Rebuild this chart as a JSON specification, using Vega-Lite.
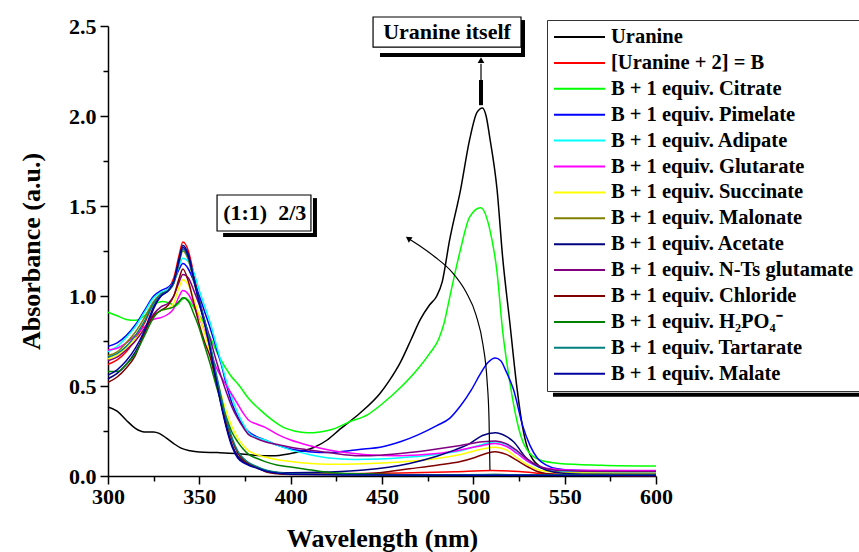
{
"$schema":"https://vega.github.io/schema/vega-lite/v6.json",
"width":548,"height":450,
"autosize":{"type":"none"},
"padding":{"left":108,"top":26,"right":203,"bottom":76},
"background":"white",
"config":{"view":{"stroke":null},"font":"Liberation Serif","axis":{"grid":false,"domainColor":"black","tickColor":"black","labelColor":"black","titleColor":"black","domainWidth":1.5,"tickWidth":1.5,"labelFont":"Liberation Serif","titleFont":"Liberation Serif","labelFontWeight":"bold","titleFontWeight":"bold"}},
"datasets":{
"spectra":[
{"s":"U","x":300,"y":0.383},{"s":"U","x":305,"y":0.36},{"s":"U","x":310,"y":0.31},{"s":"U","x":315,"y":0.265},{"s":"U","x":320,"y":0.245},{"s":"U","x":325,"y":0.245},{"s":"U","x":328,"y":0.237},{"s":"U","x":332,"y":0.21},{"s":"U","x":336,"y":0.18},{"s":"U","x":340,"y":0.155},{"s":"U","x":345,"y":0.14},{"s":"U","x":350,"y":0.133},{"s":"U","x":360,"y":0.13},{"s":"U","x":370,"y":0.125},{"s":"U","x":380,"y":0.115},{"s":"U","x":390,"y":0.112},{"s":"U","x":400,"y":0.125},{"s":"U","x":407,"y":0.14},{"s":"U","x":413,"y":0.16},{"s":"U","x":420,"y":0.2},{"s":"U","x":427,"y":0.26},{"s":"U","x":438,"y":0.35},{"s":"U","x":449,"y":0.46},{"s":"U","x":454,"y":0.53},{"s":"U","x":460,"y":0.63},{"s":"U","x":466,"y":0.76},{"s":"U","x":471,"y":0.87},{"s":"U","x":476,"y":0.95},{"s":"U","x":480,"y":1.0},{"s":"U","x":483,"y":1.08},{"s":"U","x":487,"y":1.31},{"s":"U","x":493,"y":1.59},{"s":"U","x":498,"y":1.87},{"s":"U","x":502,"y":2.02},{"s":"U","x":505,"y":2.045},{"s":"U","x":507,"y":2.0},{"s":"U","x":509,"y":1.88},{"s":"U","x":513,"y":1.59},{"s":"U","x":516,"y":1.22},{"s":"U","x":520,"y":0.85},{"s":"U","x":524,"y":0.48},{"s":"U","x":527,"y":0.27},{"s":"U","x":531,"y":0.12},{"s":"U","x":538,"y":0.045},{"s":"U","x":550,"y":0.02},{"s":"U","x":600,"y":0.015},
{"s":"B","x":300,"y":0.62},{"s":"B","x":305,"y":0.645},{"s":"B","x":310,"y":0.69},{"s":"B","x":315,"y":0.76},{"s":"B","x":320,"y":0.85},{"s":"B","x":325,"y":0.96},{"s":"B","x":329,"y":1.01},{"s":"B","x":333,"y":1.04},{"s":"B","x":336,"y":1.1},{"s":"B","x":339,"y":1.23},{"s":"B","x":341,"y":1.3},{"s":"B","x":344,"y":1.25},{"s":"B","x":347,"y":1.12},{"s":"B","x":350,"y":0.98},{"s":"B","x":353,"y":0.86},{"s":"B","x":356,"y":0.72},{"s":"B","x":359,"y":0.55},{"s":"B","x":362,"y":0.4},{"s":"B","x":365,"y":0.27},{"s":"B","x":368,"y":0.17},{"s":"B","x":371,"y":0.11},{"s":"B","x":374,"y":0.08},{"s":"B","x":377,"y":0.065},{"s":"B","x":381,"y":0.05},{"s":"B","x":386,"y":0.028},{"s":"B","x":393,"y":0.015},{"s":"B","x":400,"y":0.01},{"s":"B","x":430,"y":0.012},{"s":"B","x":460,"y":0.016},{"s":"B","x":490,"y":0.024},{"s":"B","x":510,"y":0.03},{"s":"B","x":525,"y":0.025},{"s":"B","x":540,"y":0.012},{"s":"B","x":560,"y":0.005},{"s":"B","x":600,"y":0.003},
{"s":"Cit","x":300,"y":0.91},{"s":"Cit","x":305,"y":0.89},{"s":"Cit","x":310,"y":0.87},{"s":"Cit","x":315,"y":0.865},{"s":"Cit","x":320,"y":0.89},{"s":"Cit","x":325,"y":0.95},{"s":"Cit","x":330,"y":0.97},{"s":"Cit","x":334,"y":0.96},{"s":"Cit","x":337,"y":0.945},{"s":"Cit","x":340,"y":0.975},{"s":"Cit","x":342,"y":0.99},{"s":"Cit","x":345,"y":0.965},{"s":"Cit","x":348,"y":0.92},{"s":"Cit","x":352,"y":0.86},{"s":"Cit","x":356,"y":0.77},{"s":"Cit","x":361,"y":0.66},{"s":"Cit","x":367,"y":0.56},{"s":"Cit","x":372,"y":0.5},{"s":"Cit","x":377,"y":0.43},{"s":"Cit","x":383,"y":0.37},{"s":"Cit","x":390,"y":0.31},{"s":"Cit","x":396,"y":0.27},{"s":"Cit","x":402,"y":0.25},{"s":"Cit","x":409,"y":0.24},{"s":"Cit","x":416,"y":0.245},{"s":"Cit","x":423,"y":0.26},{"s":"Cit","x":432,"y":0.3},{"s":"Cit","x":442,"y":0.34},{"s":"Cit","x":450,"y":0.4},{"s":"Cit","x":460,"y":0.49},{"s":"Cit","x":470,"y":0.6},{"s":"Cit","x":476,"y":0.68},{"s":"Cit","x":481,"y":0.76},{"s":"Cit","x":484,"y":0.85},{"s":"Cit","x":487,"y":0.99},{"s":"Cit","x":493,"y":1.26},{"s":"Cit","x":498,"y":1.44},{"s":"Cit","x":504,"y":1.49},{"s":"Cit","x":509,"y":1.37},{"s":"Cit","x":513,"y":1.13},{"s":"Cit","x":516,"y":0.81},{"s":"Cit","x":520,"y":0.52},{"s":"Cit","x":524,"y":0.3},{"s":"Cit","x":528,"y":0.17},{"s":"Cit","x":536,"y":0.09},{"s":"Cit","x":547,"y":0.07},{"s":"Cit","x":570,"y":0.06},{"s":"Cit","x":600,"y":0.055},
{"s":"Pim","x":300,"y":0.72},{"s":"Pim","x":305,"y":0.74},{"s":"Pim","x":310,"y":0.78},{"s":"Pim","x":315,"y":0.84},{"s":"Pim","x":320,"y":0.92},{"s":"Pim","x":325,"y":1.0},{"s":"Pim","x":329,"y":1.03},{"s":"Pim","x":333,"y":1.05},{"s":"Pim","x":336,"y":1.08},{"s":"Pim","x":339,"y":1.15},{"s":"Pim","x":341,"y":1.18},{"s":"Pim","x":344,"y":1.15},{"s":"Pim","x":347,"y":1.08},{"s":"Pim","x":350,"y":1.0},{"s":"Pim","x":353,"y":0.91},{"s":"Pim","x":356,"y":0.82},{"s":"Pim","x":359,"y":0.72},{"s":"Pim","x":362,"y":0.62},{"s":"Pim","x":365,"y":0.5},{"s":"Pim","x":368,"y":0.4},{"s":"Pim","x":371,"y":0.33},{"s":"Pim","x":374,"y":0.28},{"s":"Pim","x":377,"y":0.245},{"s":"Pim","x":381,"y":0.22},{"s":"Pim","x":386,"y":0.2},{"s":"Pim","x":393,"y":0.17},{"s":"Pim","x":400,"y":0.15},{"s":"Pim","x":410,"y":0.135},{"s":"Pim","x":421,"y":0.13},{"s":"Pim","x":432,"y":0.14},{"s":"Pim","x":440,"y":0.15},{"s":"Pim","x":449,"y":0.16},{"s":"Pim","x":460,"y":0.19},{"s":"Pim","x":470,"y":0.23},{"s":"Pim","x":480,"y":0.28},{"s":"Pim","x":487,"y":0.32},{"s":"Pim","x":493,"y":0.39},{"s":"Pim","x":499,"y":0.48},{"s":"Pim","x":504,"y":0.57},{"s":"Pim","x":508,"y":0.63},{"s":"Pim","x":512,"y":0.655},{"s":"Pim","x":515,"y":0.64},{"s":"Pim","x":518,"y":0.58},{"s":"Pim","x":522,"y":0.48},{"s":"Pim","x":527,"y":0.28},{"s":"Pim","x":531,"y":0.17},{"s":"Pim","x":535,"y":0.1},{"s":"Pim","x":540,"y":0.06},{"s":"Pim","x":546,"y":0.04},{"s":"Pim","x":560,"y":0.03},{"s":"Pim","x":600,"y":0.025},
{"s":"Adi","x":300,"y":0.69},{"s":"Adi","x":305,"y":0.72},{"s":"Adi","x":310,"y":0.77},{"s":"Adi","x":315,"y":0.83},{"s":"Adi","x":320,"y":0.91},{"s":"Adi","x":325,"y":0.99},{"s":"Adi","x":329,"y":1.02},{"s":"Adi","x":333,"y":1.04},{"s":"Adi","x":336,"y":1.08},{"s":"Adi","x":339,"y":1.17},{"s":"Adi","x":341,"y":1.21},{"s":"Adi","x":344,"y":1.19},{"s":"Adi","x":347,"y":1.13},{"s":"Adi","x":350,"y":1.03},{"s":"Adi","x":353,"y":0.94},{"s":"Adi","x":356,"y":0.85},{"s":"Adi","x":359,"y":0.74},{"s":"Adi","x":362,"y":0.63},{"s":"Adi","x":365,"y":0.52},{"s":"Adi","x":368,"y":0.43},{"s":"Adi","x":371,"y":0.35},{"s":"Adi","x":374,"y":0.29},{"s":"Adi","x":377,"y":0.24},{"s":"Adi","x":381,"y":0.215},{"s":"Adi","x":386,"y":0.2},{"s":"Adi","x":393,"y":0.17},{"s":"Adi","x":400,"y":0.145},{"s":"Adi","x":410,"y":0.12},{"s":"Adi","x":421,"y":0.1},{"s":"Adi","x":435,"y":0.092},{"s":"Adi","x":449,"y":0.094},{"s":"Adi","x":465,"y":0.105},{"s":"Adi","x":480,"y":0.12},{"s":"Adi","x":493,"y":0.14},{"s":"Adi","x":505,"y":0.175},{"s":"Adi","x":512,"y":0.19},{"s":"Adi","x":518,"y":0.175},{"s":"Adi","x":524,"y":0.13},{"s":"Adi","x":530,"y":0.08},{"s":"Adi","x":537,"y":0.045},{"s":"Adi","x":545,"y":0.03},{"s":"Adi","x":560,"y":0.022},{"s":"Adi","x":600,"y":0.02},
{"s":"Glu","x":300,"y":0.7},{"s":"Glu","x":305,"y":0.71},{"s":"Glu","x":310,"y":0.74},{"s":"Glu","x":315,"y":0.78},{"s":"Glu","x":320,"y":0.83},{"s":"Glu","x":325,"y":0.87},{"s":"Glu","x":329,"y":0.88},{"s":"Glu","x":333,"y":0.9},{"s":"Glu","x":336,"y":0.93},{"s":"Glu","x":339,"y":1.0},{"s":"Glu","x":341,"y":1.03},{"s":"Glu","x":344,"y":1.01},{"s":"Glu","x":347,"y":0.95},{"s":"Glu","x":350,"y":0.88},{"s":"Glu","x":353,"y":0.8},{"s":"Glu","x":356,"y":0.7},{"s":"Glu","x":359,"y":0.61},{"s":"Glu","x":362,"y":0.55},{"s":"Glu","x":365,"y":0.5},{"s":"Glu","x":368,"y":0.45},{"s":"Glu","x":371,"y":0.4},{"s":"Glu","x":374,"y":0.35},{"s":"Glu","x":377,"y":0.31},{"s":"Glu","x":381,"y":0.29},{"s":"Glu","x":386,"y":0.27},{"s":"Glu","x":393,"y":0.23},{"s":"Glu","x":400,"y":0.2},{"s":"Glu","x":410,"y":0.17},{"s":"Glu","x":421,"y":0.145},{"s":"Glu","x":430,"y":0.13},{"s":"Glu","x":440,"y":0.12},{"s":"Glu","x":460,"y":0.113},{"s":"Glu","x":480,"y":0.125},{"s":"Glu","x":493,"y":0.145},{"s":"Glu","x":505,"y":0.17},{"s":"Glu","x":512,"y":0.18},{"s":"Glu","x":518,"y":0.165},{"s":"Glu","x":524,"y":0.125},{"s":"Glu","x":530,"y":0.08},{"s":"Glu","x":537,"y":0.05},{"s":"Glu","x":545,"y":0.038},{"s":"Glu","x":560,"y":0.032},{"s":"Glu","x":600,"y":0.03},
{"s":"Suc","x":300,"y":0.65},{"s":"Suc","x":305,"y":0.67},{"s":"Suc","x":310,"y":0.71},{"s":"Suc","x":315,"y":0.76},{"s":"Suc","x":320,"y":0.82},{"s":"Suc","x":325,"y":0.89},{"s":"Suc","x":329,"y":0.92},{"s":"Suc","x":333,"y":0.93},{"s":"Suc","x":336,"y":0.96},{"s":"Suc","x":339,"y":1.05},{"s":"Suc","x":341,"y":1.09},{"s":"Suc","x":344,"y":1.06},{"s":"Suc","x":347,"y":0.98},{"s":"Suc","x":350,"y":0.89},{"s":"Suc","x":353,"y":0.79},{"s":"Suc","x":356,"y":0.68},{"s":"Suc","x":359,"y":0.56},{"s":"Suc","x":362,"y":0.45},{"s":"Suc","x":365,"y":0.35},{"s":"Suc","x":368,"y":0.27},{"s":"Suc","x":371,"y":0.21},{"s":"Suc","x":374,"y":0.17},{"s":"Suc","x":377,"y":0.14},{"s":"Suc","x":381,"y":0.12},{"s":"Suc","x":386,"y":0.105},{"s":"Suc","x":393,"y":0.09},{"s":"Suc","x":400,"y":0.08},{"s":"Suc","x":420,"y":0.065},{"s":"Suc","x":440,"y":0.068},{"s":"Suc","x":460,"y":0.078},{"s":"Suc","x":480,"y":0.097},{"s":"Suc","x":493,"y":0.12},{"s":"Suc","x":505,"y":0.15},{"s":"Suc","x":512,"y":0.16},{"s":"Suc","x":518,"y":0.145},{"s":"Suc","x":524,"y":0.1},{"s":"Suc","x":530,"y":0.06},{"s":"Suc","x":537,"y":0.03},{"s":"Suc","x":545,"y":0.02},{"s":"Suc","x":560,"y":0.016},{"s":"Suc","x":600,"y":0.015},
{"s":"Mal","x":300,"y":0.67},{"s":"Mal","x":305,"y":0.69},{"s":"Mal","x":310,"y":0.74},{"s":"Mal","x":315,"y":0.8},{"s":"Mal","x":320,"y":0.88},{"s":"Mal","x":325,"y":0.97},{"s":"Mal","x":329,"y":1.01},{"s":"Mal","x":333,"y":1.03},{"s":"Mal","x":336,"y":1.07},{"s":"Mal","x":339,"y":1.19},{"s":"Mal","x":341,"y":1.25},{"s":"Mal","x":344,"y":1.2},{"s":"Mal","x":347,"y":1.08},{"s":"Mal","x":350,"y":0.96},{"s":"Mal","x":353,"y":0.85},{"s":"Mal","x":356,"y":0.72},{"s":"Mal","x":359,"y":0.57},{"s":"Mal","x":362,"y":0.43},{"s":"Mal","x":365,"y":0.3},{"s":"Mal","x":368,"y":0.2},{"s":"Mal","x":371,"y":0.13},{"s":"Mal","x":374,"y":0.09},{"s":"Mal","x":377,"y":0.07},{"s":"Mal","x":381,"y":0.05},{"s":"Mal","x":386,"y":0.03},{"s":"Mal","x":393,"y":0.015},{"s":"Mal","x":400,"y":0.01},{"s":"Mal","x":450,"y":0.006},{"s":"Mal","x":500,"y":0.006},{"s":"Mal","x":512,"y":0.008},{"s":"Mal","x":525,"y":0.006},{"s":"Mal","x":600,"y":0.004},
{"s":"Ace","x":300,"y":0.54},{"s":"Ace","x":305,"y":0.57},{"s":"Ace","x":310,"y":0.62},{"s":"Ace","x":315,"y":0.69},{"s":"Ace","x":320,"y":0.79},{"s":"Ace","x":325,"y":0.93},{"s":"Ace","x":329,"y":1.0},{"s":"Ace","x":333,"y":1.03},{"s":"Ace","x":336,"y":1.08},{"s":"Ace","x":339,"y":1.21},{"s":"Ace","x":341,"y":1.28},{"s":"Ace","x":344,"y":1.23},{"s":"Ace","x":347,"y":1.1},{"s":"Ace","x":350,"y":0.97},{"s":"Ace","x":353,"y":0.85},{"s":"Ace","x":356,"y":0.71},{"s":"Ace","x":359,"y":0.55},{"s":"Ace","x":362,"y":0.4},{"s":"Ace","x":365,"y":0.27},{"s":"Ace","x":368,"y":0.17},{"s":"Ace","x":371,"y":0.11},{"s":"Ace","x":374,"y":0.08},{"s":"Ace","x":377,"y":0.065},{"s":"Ace","x":381,"y":0.05},{"s":"Ace","x":386,"y":0.03},{"s":"Ace","x":393,"y":0.02},{"s":"Ace","x":400,"y":0.018},{"s":"Ace","x":420,"y":0.022},{"s":"Ace","x":440,"y":0.033},{"s":"Ace","x":465,"y":0.07},{"s":"Ace","x":480,"y":0.11},{"s":"Ace","x":490,"y":0.145},{"s":"Ace","x":498,"y":0.18},{"s":"Ace","x":505,"y":0.225},{"s":"Ace","x":512,"y":0.24},{"s":"Ace","x":518,"y":0.22},{"s":"Ace","x":522,"y":0.19},{"s":"Ace","x":529,"y":0.1},{"s":"Ace","x":536,"y":0.05},{"s":"Ace","x":545,"y":0.02},{"s":"Ace","x":560,"y":0.01},{"s":"Ace","x":600,"y":0.01},
{"s":"NTs","x":300,"y":0.64},{"s":"NTs","x":305,"y":0.66},{"s":"NTs","x":310,"y":0.7},{"s":"NTs","x":315,"y":0.75},{"s":"NTs","x":320,"y":0.82},{"s":"NTs","x":325,"y":0.9},{"s":"NTs","x":329,"y":0.94},{"s":"NTs","x":333,"y":0.96},{"s":"NTs","x":336,"y":1.0},{"s":"NTs","x":339,"y":1.08},{"s":"NTs","x":341,"y":1.12},{"s":"NTs","x":344,"y":1.1},{"s":"NTs","x":347,"y":1.03},{"s":"NTs","x":350,"y":0.95},{"s":"NTs","x":353,"y":0.86},{"s":"NTs","x":356,"y":0.76},{"s":"NTs","x":359,"y":0.65},{"s":"NTs","x":362,"y":0.55},{"s":"NTs","x":365,"y":0.46},{"s":"NTs","x":368,"y":0.38},{"s":"NTs","x":371,"y":0.32},{"s":"NTs","x":374,"y":0.27},{"s":"NTs","x":377,"y":0.23},{"s":"NTs","x":381,"y":0.21},{"s":"NTs","x":386,"y":0.19},{"s":"NTs","x":393,"y":0.175},{"s":"NTs","x":400,"y":0.16},{"s":"NTs","x":410,"y":0.145},{"s":"NTs","x":421,"y":0.13},{"s":"NTs","x":438,"y":0.112},{"s":"NTs","x":449,"y":0.115},{"s":"NTs","x":465,"y":0.13},{"s":"NTs","x":480,"y":0.15},{"s":"NTs","x":493,"y":0.17},{"s":"NTs","x":505,"y":0.19},{"s":"NTs","x":512,"y":0.195},{"s":"NTs","x":518,"y":0.18},{"s":"NTs","x":524,"y":0.14},{"s":"NTs","x":530,"y":0.09},{"s":"NTs","x":537,"y":0.05},{"s":"NTs","x":545,"y":0.032},{"s":"NTs","x":560,"y":0.027},{"s":"NTs","x":600,"y":0.025},
{"s":"Chl","x":300,"y":0.52},{"s":"Chl","x":305,"y":0.55},{"s":"Chl","x":310,"y":0.6},{"s":"Chl","x":315,"y":0.67},{"s":"Chl","x":320,"y":0.8},{"s":"Chl","x":325,"y":0.89},{"s":"Chl","x":329,"y":0.92},{"s":"Chl","x":333,"y":0.95},{"s":"Chl","x":336,"y":1.0},{"s":"Chl","x":339,"y":1.1},{"s":"Chl","x":341,"y":1.15},{"s":"Chl","x":344,"y":1.08},{"s":"Chl","x":347,"y":0.96},{"s":"Chl","x":350,"y":0.84},{"s":"Chl","x":353,"y":0.74},{"s":"Chl","x":356,"y":0.66},{"s":"Chl","x":359,"y":0.53},{"s":"Chl","x":362,"y":0.41},{"s":"Chl","x":365,"y":0.3},{"s":"Chl","x":368,"y":0.2},{"s":"Chl","x":371,"y":0.13},{"s":"Chl","x":374,"y":0.09},{"s":"Chl","x":377,"y":0.07},{"s":"Chl","x":381,"y":0.05},{"s":"Chl","x":386,"y":0.025},{"s":"Chl","x":393,"y":0.012},{"s":"Chl","x":400,"y":0.008},{"s":"Chl","x":430,"y":0.01},{"s":"Chl","x":450,"y":0.02},{"s":"Chl","x":465,"y":0.04},{"s":"Chl","x":480,"y":0.06},{"s":"Chl","x":493,"y":0.08},{"s":"Chl","x":500,"y":0.1},{"s":"Chl","x":507,"y":0.125},{"s":"Chl","x":512,"y":0.135},{"s":"Chl","x":518,"y":0.12},{"s":"Chl","x":525,"y":0.08},{"s":"Chl","x":530,"y":0.05},{"s":"Chl","x":535,"y":0.025},{"s":"Chl","x":545,"y":0.008},{"s":"Chl","x":560,"y":0.004},{"s":"Chl","x":600,"y":0.003},
{"s":"H2P","x":300,"y":0.58},{"s":"H2P","x":305,"y":0.58},{"s":"H2P","x":310,"y":0.62},{"s":"H2P","x":315,"y":0.68},{"s":"H2P","x":320,"y":0.78},{"s":"H2P","x":325,"y":0.88},{"s":"H2P","x":329,"y":0.92},{"s":"H2P","x":333,"y":0.93},{"s":"H2P","x":336,"y":0.94},{"s":"H2P","x":339,"y":0.97},{"s":"H2P","x":341,"y":0.99},{"s":"H2P","x":344,"y":0.97},{"s":"H2P","x":347,"y":0.9},{"s":"H2P","x":350,"y":0.82},{"s":"H2P","x":353,"y":0.72},{"s":"H2P","x":356,"y":0.62},{"s":"H2P","x":359,"y":0.51},{"s":"H2P","x":362,"y":0.41},{"s":"H2P","x":365,"y":0.32},{"s":"H2P","x":368,"y":0.24},{"s":"H2P","x":371,"y":0.19},{"s":"H2P","x":374,"y":0.15},{"s":"H2P","x":377,"y":0.12},{"s":"H2P","x":381,"y":0.1},{"s":"H2P","x":386,"y":0.08},{"s":"H2P","x":393,"y":0.06},{"s":"H2P","x":400,"y":0.05},{"s":"H2P","x":410,"y":0.035},{"s":"H2P","x":421,"y":0.02},{"s":"H2P","x":449,"y":0.01},{"s":"H2P","x":480,"y":0.006},{"s":"H2P","x":520,"y":0.005},{"s":"H2P","x":600,"y":0.004},
{"s":"Tar","x":300,"y":0.66},{"s":"Tar","x":305,"y":0.68},{"s":"Tar","x":310,"y":0.72},{"s":"Tar","x":315,"y":0.78},{"s":"Tar","x":320,"y":0.86},{"s":"Tar","x":325,"y":0.96},{"s":"Tar","x":329,"y":1.01},{"s":"Tar","x":333,"y":1.03},{"s":"Tar","x":336,"y":1.07},{"s":"Tar","x":339,"y":1.19},{"s":"Tar","x":341,"y":1.26},{"s":"Tar","x":344,"y":1.21},{"s":"Tar","x":347,"y":1.09},{"s":"Tar","x":350,"y":0.97},{"s":"Tar","x":353,"y":0.86},{"s":"Tar","x":356,"y":0.73},{"s":"Tar","x":359,"y":0.58},{"s":"Tar","x":362,"y":0.44},{"s":"Tar","x":365,"y":0.31},{"s":"Tar","x":368,"y":0.21},{"s":"Tar","x":371,"y":0.14},{"s":"Tar","x":374,"y":0.1},{"s":"Tar","x":377,"y":0.075},{"s":"Tar","x":381,"y":0.055},{"s":"Tar","x":386,"y":0.035},{"s":"Tar","x":393,"y":0.02},{"s":"Tar","x":400,"y":0.012},{"s":"Tar","x":430,"y":0.008},{"s":"Tar","x":480,"y":0.006},{"s":"Tar","x":512,"y":0.008},{"s":"Tar","x":540,"y":0.005},{"s":"Tar","x":600,"y":0.004},
{"s":"Mlt","x":300,"y":0.56},{"s":"Mlt","x":305,"y":0.59},{"s":"Mlt","x":310,"y":0.64},{"s":"Mlt","x":315,"y":0.71},{"s":"Mlt","x":320,"y":0.81},{"s":"Mlt","x":325,"y":0.94},{"s":"Mlt","x":329,"y":1.0},{"s":"Mlt","x":333,"y":1.03},{"s":"Mlt","x":336,"y":1.08},{"s":"Mlt","x":339,"y":1.2},{"s":"Mlt","x":341,"y":1.27},{"s":"Mlt","x":344,"y":1.22},{"s":"Mlt","x":347,"y":1.09},{"s":"Mlt","x":350,"y":0.96},{"s":"Mlt","x":353,"y":0.84},{"s":"Mlt","x":356,"y":0.7},{"s":"Mlt","x":359,"y":0.54},{"s":"Mlt","x":362,"y":0.39},{"s":"Mlt","x":365,"y":0.26},{"s":"Mlt","x":368,"y":0.16},{"s":"Mlt","x":371,"y":0.1},{"s":"Mlt","x":374,"y":0.075},{"s":"Mlt","x":377,"y":0.06},{"s":"Mlt","x":381,"y":0.045},{"s":"Mlt","x":386,"y":0.028},{"s":"Mlt","x":393,"y":0.015},{"s":"Mlt","x":400,"y":0.01},{"s":"Mlt","x":440,"y":0.005},{"s":"Mlt","x":500,"y":0.004},{"s":"Mlt","x":600,"y":0.003}
],
"boxes":[{"x":445.1,"x2":526.1,"y":2.55,"y2":2.383},{"x":359.7,"x2":411.1,"y":1.561,"y2":1.361}],
"shadows":[{"x":448.9,"x2":528.3,"y":2.339,"y2":2.339},{"x":527.2,"x2":527.2,"y":2.533,"y2":2.328},{"x":363,"x2":414.4,"y":1.339,"y2":1.339},{"x":413.3,"x2":413.3,"y":1.544,"y2":1.328},{"x":543.6,"x2":712,"y":0.452,"y2":0.452},{"x":504.2,"x2":504.2,"y":2.06,"y2":2.2}],
"arrows":[{"k":"c","o":1,"x":509.1,"y":0.033},{"k":"c","o":2,"x":508.6,"y":0.311},{"k":"c","o":3,"x":507.5,"y":0.533},{"k":"c","o":4,"x":505.3,"y":0.728},{"k":"c","o":5,"x":501.5,"y":0.894},{"k":"c","o":6,"x":496.0,"y":1.022},{"k":"c","o":7,"x":488.3,"y":1.133},{"k":"c","o":8,"x":479.0,"y":1.217},{"k":"c","o":9,"x":470.8,"y":1.278},{"k":"c","o":10,"x":465.3,"y":1.314},{"k":"u","o":1,"x":504.2,"y":2.2},{"k":"u","o":2,"x":504.2,"y":2.29}],
"heads":[{"x":504.2,"y":2.31,"a":0},{"x":464.4,"y":1.32,"a":304}],
"labels":[{"x":485.6,"y":2.467,"t":"Uranine itself"},{"x":385.8,"y":1.463,"t":"(1:1)\u00a0\u00a02/3"}]
},
"resolve":{"axis":{"x":"independent","y":"independent"}},
"layer":[
{"data":{"name":"spectra"},"mark":{"type":"line","interpolate":"monotone","strokeWidth":1.5},
"encoding":{
"x":{"field":"x","type":"quantitative","scale":{"domain":[300,600],"nice":false,"zero":false},"axis":{"orient":"bottom","values":[300,350,400,450,500,550,600],"tickSize":8,"labelFontSize":22,"labelPadding":2,"labelFlush":false,"labelOverlap":false,"title":"Wavelength (nm)","titleFontSize":26,"titlePadding":18}},
"y":{"field":"y","type":"quantitative","scale":{"domain":[0,2.5],"nice":false,"zero":false},"axis":{"orient":"left","values":[0,0.5,1,1.5,2,2.5],"format":".1f","tickSize":8,"labelFontSize":22,"labelPadding":4,"labelFlush":false,"labelOverlap":false,"title":"Absorbance (a.u.)","titleFontSize":26,"titlePadding":24}},
"stroke":{"field":"s","type":"nominal","scale":{"domain":["U","B","Cit","Pim","Adi","Glu","Suc","Mal","Ace","NTs","Chl","H2P","Tar","Mlt"],"range":["#000000","#FF0000","#00FF00","#0000FF","#00FFFF","#FF00FF","#FFFF00","#808000","#000080","#800080","#800000","#008000","#008080","#0000A0"]},
"legend":{"title":null,"orient":"none","legendX":439,"legendY":-6,"fillColor":"white","strokeColor":"#333333","padding":6,"symbolType":"M-1,0H4.1","symbolSize":400,"symbolStrokeWidth":2,"labelFont":"Liberation Serif","labelFontWeight":"bold","labelFontSize":20.5,"labelColor":"black","labelOffset":36,"labelLimit":400,"rowPadding":3.9,
"labelExpr":"{'U':'Uranine','B':'[Uranine + 2] = B','Cit':'B + 1 equiv. Citrate','Pim':'B + 1 equiv. Pimelate','Adi':'B + 1 equiv. Adipate','Glu':'B + 1 equiv. Glutarate','Suc':'B + 1 equiv. Succinate','Mal':'B + 1 equiv. Malonate','Ace':'B + 1 equiv. Acetate','NTs':'B + 1 equiv. N-Ts glutamate','Chl':'B + 1 equiv. Chloride','H2P':'B + 1 equiv. H₂PO₄⁻','Tar':'B + 1 equiv. Tartarate','Mlt':'B + 1 equiv. Malate'}[datum.label]"}}
}},
{"data":{"name":"boxes"},"mark":{"type":"rect","fill":"white","stroke":"black","strokeWidth":1.2},
"encoding":{
"x":{"field":"x","type":"quantitative","scale":{"domain":[300,600],"nice":false,"zero":false},"axis":{"orient":"bottom","values":[325,375,425,475,525,575],"tickSize":5,"labels":false,"domain":false,"title":null}},
"x2":{"field":"x2"},
"y":{"field":"y","type":"quantitative","scale":{"domain":[0,2.5],"nice":false,"zero":false},"axis":{"orient":"left","values":[0.25,0.75,1.25,1.75,2.25],"tickSize":5,"labels":false,"domain":false,"title":null}},
"y2":{"field":"y2"}}},
{"data":{"name":"shadows"},"mark":{"type":"rule","strokeWidth":4,"color":"black"},
"encoding":{
"x":{"field":"x","type":"quantitative","scale":{"domain":[300,600],"nice":false,"zero":false},"axis":null},
"x2":{"field":"x2"},
"y":{"field":"y","type":"quantitative","scale":{"domain":[0,2.5],"nice":false,"zero":false},"axis":null},
"y2":{"field":"y2"}}},
{"data":{"name":"arrows"},"mark":{"type":"line","interpolate":"monotone","strokeWidth":1.2,"color":"black"},
"encoding":{
"x":{"field":"x","type":"quantitative","scale":{"domain":[300,600],"nice":false,"zero":false},"axis":null},
"y":{"field":"y","type":"quantitative","scale":{"domain":[0,2.5],"nice":false,"zero":false},"axis":null},
"detail":{"field":"k"},"order":{"field":"o"}}},
{"data":{"name":"heads"},"mark":{"type":"point","shape":"triangle-up","filled":true,"size":45,"color":"black","opacity":1},
"encoding":{
"x":{"field":"x","type":"quantitative","scale":{"domain":[300,600],"nice":false,"zero":false},"axis":null},
"y":{"field":"y","type":"quantitative","scale":{"domain":[0,2.5],"nice":false,"zero":false},"axis":null},
"angle":{"field":"a","type":"quantitative","scale":null}}},
{"data":{"name":"labels"},"mark":{"type":"text","font":"Liberation Serif","fontWeight":"bold","fontSize":22,"color":"black","align":"center","baseline":"middle"},
"encoding":{
"x":{"field":"x","type":"quantitative","scale":{"domain":[300,600],"nice":false,"zero":false},"axis":null},
"y":{"field":"y","type":"quantitative","scale":{"domain":[0,2.5],"nice":false,"zero":false},"axis":null},
"text":{"field":"t"}}}
]
}
